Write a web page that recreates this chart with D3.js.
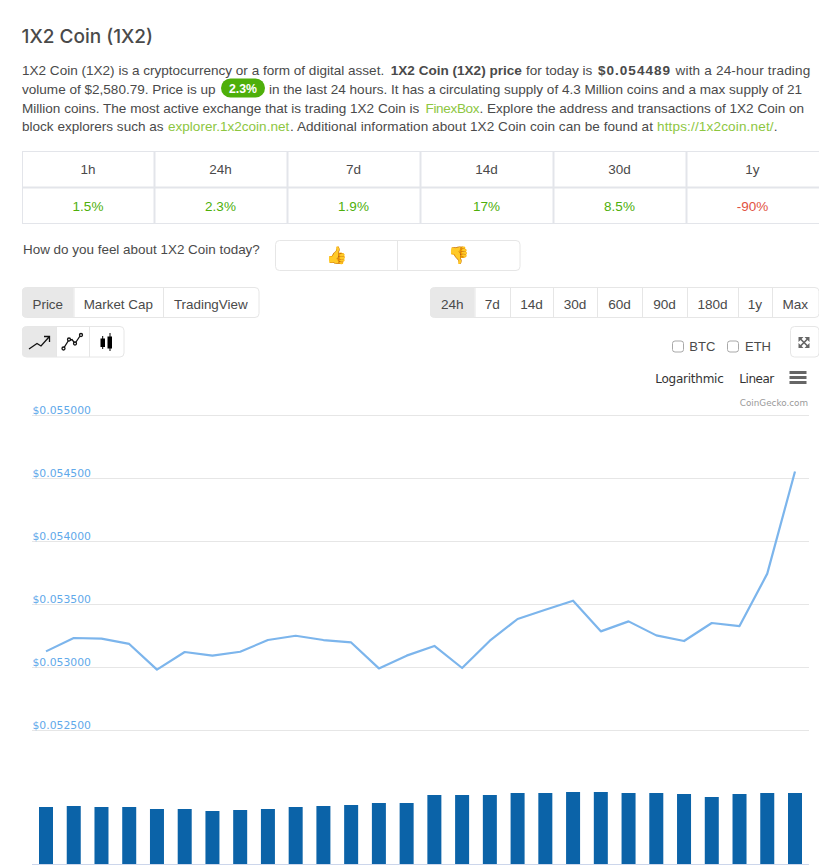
<!DOCTYPE html>
<html><head><meta charset="utf-8">
<script src="https://cdn.jsdelivr.net/npm/d3@7"></script>
<style>html,body{margin:0;padding:0;background:#fff;overflow:hidden}svg{display:block}</style>
</head><body><svg id="c" width="819" height="865"></svg>
<script>
const pointIndex = d3.range(28);
const prices = [0.053124,0.053230,0.053225,0.053183,0.052979,0.053119,0.053090,0.053121,0.053214,0.053248,0.053214,0.053195,0.052989,0.053090,0.053167,0.052992,0.053209,0.053381,0.053455,0.053526,0.053283,0.053362,0.053251,0.053206,0.053349,0.053325,0.053741,0.054552];
const volumes = [2052,2088,2052,2052,1980,1980,1908,1944,1980,2052,2088,2124,2196,2196,2484,2484,2484,2556,2556,2592,2592,2556,2556,2520,2412,2520,2556,2556];
const priceTicks = [0.0525,0.053,0.0535,0.054,0.0545,0.055];
const changeHeaders = ["1h","24h","7d","14d","30d","1y"];
const changeValues = ["1.5%","2.3%","1.9%","17%","8.5%","-90%"];
const changeUp = [true,true,true,true,true,false];
const chartTabs = ["Price","Market Cap","TradingView"];
const rangeTabs = ["24h","7d","14d","30d","60d","90d","180d","1y","Max"];

const FONT = "'Liberation Sans', Arial, sans-serif";
const TXT = "#4a4a4a", GREEN = "#4eaf0a", LINK = "#8dc63f", RED = "#e15241", BORDER = "#e3e5ea";
const svg = d3.select("#c").attr("font-family", FONT);
function text(x,y,s,o={}){
  const t = svg.append("text").attr("x",x).attr("y",y).text(s)
    .attr("font-size",o.size||13.6).attr("fill",o.fill||TXT)
    .attr("text-anchor",o.anchor||"start");
  if(o.weight) t.attr("font-weight",o.weight);
  if(o.family) t.attr("font-family",o.family);
  if(o.ls) t.attr("letter-spacing",o.ls);
  return t;
}
// parts: [string, style, x, letterSpacing]
function rich(x,y,parts,size){
  const t = svg.append("text").attr("x",x).attr("y",y).attr("font-size",size).attr("fill",TXT);
  parts.forEach(p=>{
    const s=t.append("tspan").text(p[0]);
    if(p[1]==="b") s.attr("font-weight","bold");
    if(p[1]==="l") s.attr("fill",LINK);
    if(p[2]!=null) s.attr("x",p[2]);
    if(p[3]!=null) s.attr("letter-spacing",p[3]);
  });
  return t;
}
// heading + paragraph
text(21.5,43,"1X2 Coin (1X2)",{size:19,weight:500,family:"Inter, 'Liberation Sans'",fill:"#4a4a4a"});
const PS=13.55;
rich(22,75,[["1X2 Coin (1X2) is a cryptocurrency or a form of digital asset."],["1X2 Coin (1X2) price","b",390.8],["for today is","",526],["$0.054489","b",598,1],["with a 24-hour trading","",675.5,.18]],PS);
rich(22,94,[["volume of $2,580.79. Price is up"]],PS);
svg.append("rect").attr("x",221).attr("y",78.5).attr("width",44).attr("height",19).attr("rx",9.5).attr("fill",GREEN);
text(243,93,"2.3%",{size:12.3,fill:"#fff",anchor:"middle",weight:"bold"});
rich(269,94,[["in the last 24 hours. It has a circulating supply of 4.3 Million coins and a max supply of 21"]],PS);
rich(22,113,[["Million coins. The most active exchange that is trading 1X2 Coin is"],["FinexBox","l",425.5,-.35],[". Explore the address and transactions of 1X2 Coin on","",479.5]],PS);
rich(22,131,[["block explorers such as"],["explorer.1x2coin.net","l",168],[". Additional information about 1X2 Coin coin can be found at","",290,.05],["https://1x2coin.net/","l",657,.15],["."]],PS);

// change table
const colX = [22,154,287,420,553,686,819];
const rowY = [151.5,187.5,223.5];
const grid = svg.append("g").attr("stroke",BORDER).attr("fill","none");
colX.forEach((x,i)=>grid.append("line").attr("x1",x+.5).attr("x2",x+.5).attr("y1",151).attr("y2",224).attr("stroke-width",i&&i<6?2:1));
rowY.forEach((y,i)=>grid.append("line").attr("x1",22).attr("x2",819).attr("y1",y).attr("y2",y).attr("stroke-width",i==1?2:1));
changeHeaders.forEach((h,i)=>text((colX[i]+colX[i+1])/2,174,h,{size:13.5,anchor:"middle"}));
changeValues.forEach((v,i)=>text((colX[i]+colX[i+1])/2,211,v,{size:13.5,anchor:"middle",fill:changeUp[i]?GREEN:RED}));

// feedback
text(23,254,"How do you feel about 1X2 Coin today?",{size:13.45});
function box(x,y,w,h,fill,r){return svg.append("rect").attr("x",x+.5).attr("y",y+.5).attr("width",w).attr("height",h).attr("rx",r==null?4:r).attr("fill",fill||"#fff").attr("stroke","#e6e6e6");}
box(275,240,244.5,30);
svg.append("line").attr("x1",397.5).attr("x2",397.5).attr("y1",240).attr("y2",271).attr("stroke","#e6e6e6");
text(336,261,"👍",{size:17,anchor:"middle",fill:"#f5b321"});
text(458,261,"👎",{size:17,anchor:"middle",fill:"#f5b321"});

// tab groups
function tabs(labels,edges,y,h,size){
  const n=labels.length;
  box(edges[0],y,edges[n]-edges[0],h);
  svg.append("path").attr("d",`M${edges[1]},${y+.5}H${edges[0]+4}a4,4 0 0 0 -4,4V${y+h-3.5}a4,4 0 0 0 4,4H${edges[1]}Z`).attr("fill","#e8e8e8");
  edges.slice(1,n).forEach(x=>svg.append("line").attr("x1",x+.5).attr("x2",x+.5).attr("y1",y).attr("y2",y+h+1).attr("stroke","#e6e6e6"));
  labels.forEach((l,i)=>text((edges[i]+edges[i+1])/2,y+21.5,l,{size,anchor:"middle",fill:"#4a4a4a"}));
}
tabs(chartTabs,[22,73.5,163,258.5],287,30,13.4);
tabs(rangeTabs,[430,474.5,510,553,597,642,687,738,772,818.5],287,30,13.6);

// chart type buttons
box(22,326,101.5,30.5);
svg.append("path").attr("d","M56,326.5H26a4,4 0 0 0 -4,4V353a4,4 0 0 0 4,4H56Z").attr("fill","#e8e8e8");
[56,89].forEach(x=>svg.append("line").attr("x1",x+.5).attr("x2",x+.5).attr("y1",326).attr("y2",357).attr("stroke","#e6e6e6"));
const ic = svg.append("g").attr("fill","none").attr("stroke","#111").attr("stroke-width",1.3);
ic.append("path").attr("d","M29,349L37,343.5L41,346L49,337M44,336.5H49.5V342");
ic.append("path").attr("d","M63.5,348.5L68.5,340.5L72,339.5L75,343.5L80,336");
[[63.5,348.5],[69,339.5],[75,343.5],[81,335]].forEach(p=>ic.append("circle").attr("cx",p[0]).attr("cy",p[1]).attr("r",1.5).attr("fill","#fff"));
const cs = svg.append("g").attr("fill","#000").attr("stroke","#000");
cs.append("rect").attr("x",101).attr("y",339).attr("width",3.5).attr("height",7.5);
cs.append("line").attr("x1",102.7).attr("x2",102.7).attr("y1",336).attr("y2",349);
cs.append("rect").attr("x",108).attr("y",337).attr("width",3.5).attr("height",11);
cs.append("line").attr("x1",110).attr("x2",110).attr("y1",333).attr("y2",351);

// compare checkboxes, expand
[[672.5,"BTC",689.3],[727.5,"ETH",745]].forEach(d=>{
  svg.append("rect").attr("x",d[0]).attr("y",341).attr("width",11).attr("height",11).attr("rx",2.5).attr("fill","#fff").attr("stroke","#a9a9a9");
  text(d[2],351,d[1],{size:13});
});
box(790,326,28.5,30.5);
const ex = svg.append("g").attr("stroke","#666").attr("stroke-width",1.7).attr("fill","#666");
ex.append("path").attr("d","M800,338.5L808,346.5M808,338.5L800,346.5");
ex.append("path").attr("stroke","none").attr("d","M798.5,337h5l-5,5ZM809.5,337h-5l5,5ZM798.5,348h5l-5,-5ZM809.5,348h-5l5,-5Z");

// chart
const x = d3.scalePoint().domain(pointIndex).range([46,795]);
const y = d3.scaleLinear().domain([0.0525,0.055]).range([730,415]);
const yVol = d3.scaleLinear().domain([0,3600]).range([864,764]);

text(655.3,383,"Logarithmic",{size:12,family:"'DejaVu Sans'",fill:"#333"}).attr("textLength",68.5);
text(739.3,383,"Linear",{size:12,family:"'DejaVu Sans'",fill:"#333"}).attr("textLength",35);
[371,376,381].forEach(yy=>svg.append("rect").attr("x",789.5).attr("y",yy).attr("width",17).attr("height",3).attr("fill","#666"));
text(808,406,"CoinGecko.com",{size:8.8,anchor:"end",family:"'DejaVu Sans'",fill:"#999"});

const axis = d3.axisRight(y).tickValues(priceTicks).tickSize(777).tickFormat(d3.format("$.6f"));
const gA = svg.append("g").attr("transform","translate(32,0)").call(axis);
gA.select(".domain").remove();
gA.selectAll("line").attr("stroke","#e6e6e6");
gA.selectAll("text").attr("x",.5).attr("dy",-2).attr("fill","#5fa9ea")
  .attr("font-family","'DejaVu Sans'").attr("font-size",10.8).attr("text-anchor","start");

svg.append("g").selectAll("rect").data(pointIndex).join("rect")
  .attr("x",d=>x(d)-7).attr("width",14)
  .attr("y",d=>yVol(volumes[d])).attr("height",d=>yVol(0)-yVol(volumes[d]))
  .attr("fill","#0b63a8");
svg.append("line").attr("x1",32).attr("x2",809).attr("y1",864.5).attr("y2",864.5).attr("stroke","#ccd6eb");

svg.append("path").attr("fill","none").attr("stroke","#7cb5ec").attr("stroke-width",2.2)
  .attr("stroke-linejoin","round")
  .attr("d",d3.line().x(d=>x(d)).y(d=>y(prices[d]))(pointIndex));
</script></body></html>
